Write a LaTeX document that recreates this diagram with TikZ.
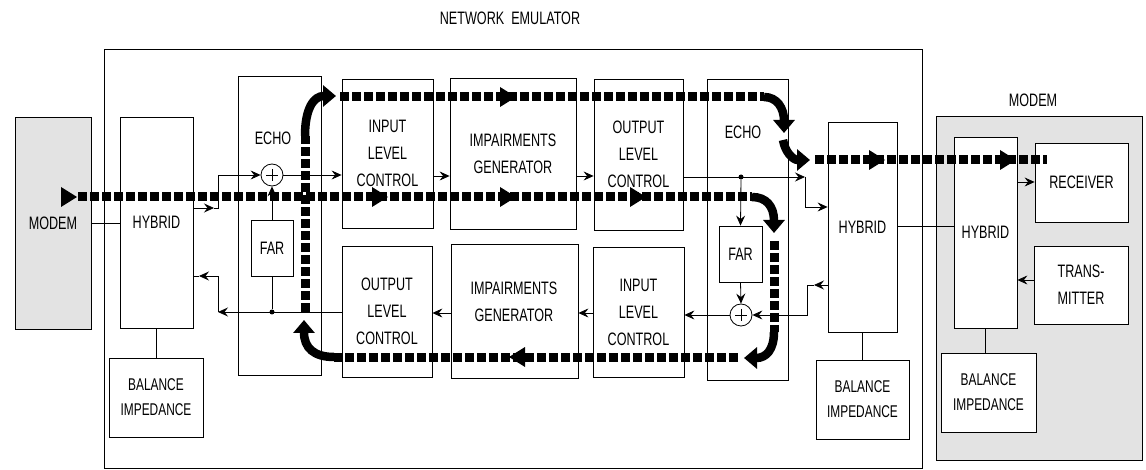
\documentclass[tikz,border=0pt]{standalone}
\usepackage{fontspec}
\setmainfont{Liberation Sans}[FakeStretch=0.7]
\usetikzlibrary{arrows.meta}
\tikzset{
  lbl/.style={font=\fontsize{18}{27}\selectfont, align=center, inner sep=0pt},
  smalllbl/.style={font=\fontsize{17}{25}\selectfont, align=center, inner sep=0pt},
  blk/.style={draw, line width=0.8pt, fill=white, lbl},
  shaded/.style={draw, line width=0.8pt, fill=black!11, lbl},
  thinline/.style={line width=0.8pt},
  tarr/.style={line width=0.8pt, -{Stealth[length=10pt,width=9pt,inset=3.5pt]}},
  thickdash/.style={line width=9pt, dash pattern=on 9pt off 3pt},
  bigcurve/.style={line width=8.5pt, -{Triangle[length=13pt,width=21pt]}},
  sumnode/.style={circle, draw, line width=0.8pt, fill=white, minimum size=22pt, inner sep=0pt},
  dotnode/.style={circle, fill, inner sep=0pt, minimum size=5pt},
  bigtip/.pic={\fill (-8,-10) -- (8,0) -- (-8,10) -- cycle;}
}
\begin{document}
\begin{tikzpicture}[x=1pt,y=-1pt]
\useasboundingbox (0,0) rectangle (1146,470);
% frame
\draw[thinline] (104,49) rectangle (922,468);
\node[lbl] (title) at (510,18) {NETWORK\ \ EMULATOR};
% left side
\node[shaded, minimum width=76pt, minimum height=212pt] (modemL) at (53,223) {MODEM};
\node[blk, minimum width=73pt, minimum height=211pt] (hybL) at (156.5,222.5) {HYBRID};
\node[blk, smalllbl, minimum width=94pt, minimum height=79pt] (balL) at (156,397.5) {BALANCE\\IMPEDANCE};
\node[blk, minimum width=83pt, minimum height=299pt] (echoL) at (279.5,225.5) {};
\node[lbl] (echoLt) at (273,138) {ECHO};
\node[blk, minimum width=42pt, minimum height=56pt] (farL) at (272,248) {FAR};
\node[sumnode] (sumL) at (272,175) {};
\draw[line width=0.5pt] (266,175) -- (278,175) (272,169) -- (272,181);
\node[dotnode] (dotL) at (272,312) {};
% middle rows
\node[blk, minimum width=91pt, minimum height=149pt] (ilcT) at (387.5,153.5) {INPUT\\LEVEL\\CONTROL};
\node[blk, minimum width=126pt, minimum height=151pt] (igT) at (513,153.5) {IMPAIRMENTS\\GENERATOR};
\node[blk, minimum width=89pt, minimum height=151pt] (olcT) at (638.5,154.5) {OUTPUT\\LEVEL\\CONTROL};
\node[blk, minimum width=90pt, minimum height=131pt] (olcB) at (387,311.5) {OUTPUT\\LEVEL\\CONTROL};
\node[blk, minimum width=127pt, minimum height=134pt] (igB) at (514.5,311) {};
\node[lbl] (igBt) at (514,302) {IMPAIRMENTS\\GENERATOR};
\node[blk, minimum width=91pt, minimum height=130pt] (ilcB) at (638.5,312) {INPUT\\LEVEL\\CONTROL};
% right echo
\node[blk, minimum width=81pt, minimum height=301pt] (echoR) at (747.5,229.5) {};
\node[lbl] (echoRt) at (743,132) {ECHO};
\node[blk, minimum width=43pt, minimum height=56pt] (farR) at (740.5,254) {FAR};
\node[sumnode] (sumR) at (741,315) {};
\draw[line width=0.5pt] (735,315) -- (747,315) (741,309) -- (741,321);
\node[dotnode] (dotR) at (741,177) {};
\node[blk, minimum width=69pt, minimum height=210pt] (hybR) at (862.5,227) {HYBRID};
\node[blk, smalllbl, minimum width=93pt, minimum height=79pt] (balR) at (862.5,399.5) {BALANCE\\IMPEDANCE};
% right modem
\node[lbl] (modemRt) at (1033,100) {MODEM};
\node[shaded, minimum width=206pt, minimum height=344pt] (modemR) at (1039,288) {};
\node[blk, minimum width=63pt, minimum height=191pt] (hybM) at (985.5,232.5) {HYBRID};
\node[blk, minimum width=93pt, minimum height=79pt] (recv) at (1081.5,182.5) {RECEIVER};
\node[blk, minimum width=94pt, minimum height=78pt] (trans) at (1081,285) {TRANS-\\MITTER};
\node[blk, smalllbl, minimum width=95pt, minimum height=79pt] (balM) at (988.5,392.5) {BALANCE\\IMPEDANCE};
% thin connectors
\draw[thinline] (modemL.east) -- (hybL.west |- modemL.east);
\draw[thinline] (hybL.south) -- (hybL.south |- balL.north);
\draw[tarr] (hybL.east |- 0,208) -- (214,208);
\draw[tarr] (214,208) -- (218,208) -- (218,175) -- (sumL.west);
\draw[tarr] (sumL.east) -- (ilcT.west |- sumL.east);
\draw[tarr] (farL.north) -- (sumL.south);
\draw[thinline] (farL.south) -- (dotL);
\draw[tarr] (olcB.west |- 0,312) -- (218,312);
\draw[tarr] (218,312) -- (218,276) -- (199,276);
\draw[thinline] (199,276) -- (hybL.east |- 0,276);
\draw[tarr] (ilcT.east |- 0,176) -- (igT.west |- 0,176);
\draw[tarr] (igT.east |- 0,176) -- (olcT.west |- 0,176);
\draw[tarr] (olcT.east |- 0,177) -- (805,177);
\draw[tarr] (805,177) -- (805,207) -- (hybR.west |- 0,207);
\draw[tarr] (dotR) -- (farR.north);
\draw[tarr] (farR.south) -- (sumR.north);
\draw[tarr] (hybR.west |- 0,285) -- (814,285);
\draw[tarr] (814,285) -- (807,285) -- (807,315) -- (sumR.east);
\draw[tarr] (sumR.west) -- (ilcB.east |- sumR.west);
\draw[tarr] (ilcB.west |- 0,313) -- (igB.east |- 0,313);
\draw[tarr] (igB.west |- 0,313) -- (olcB.east |- 0,313);
\draw[thinline] (hybR.south) -- (hybR.south |- balR.north);
\draw[thinline] (hybR.east |- 0,226) -- (hybM.west |- 0,226);
\draw[thinline] (hybM.south) -- (hybM.south |- balM.north);
\draw[tarr] (hybM.east |- 0,182) -- (recv.west |- 0,182);
\draw[tarr] (trans.west |- 0,280) -- (hybM.east |- 0,280);
% thick echo path
\pic at (69,197) {bigtip};
\draw[thickdash] (78,197) -- (752,197);
\pic at (380,197) {bigtip};
\pic at (508,197) {bigtip};
\pic at (638,197) {bigtip};
\draw[bigcurve] (752,197) .. controls (766,197) and (774,206) .. (774,233);
\draw[thickdash] (774,241) -- (774,332);
\draw[bigcurve] (774,332) .. controls (774,350) and (766,358) .. (744,358);
\draw[thickdash] (738,357) -- (334,357);
\pic[rotate=180] at (517,357) {bigtip};
\draw[bigcurve] (334,357) .. controls (314,357) and (304,348) .. (304,320);
\draw[thickdash] (305,312) -- (305,136);
\draw[bigcurve] (305,136) .. controls (305,108) and (314,96) .. (336,96);
\draw[thickdash] (340,97) -- (764,97);
\pic at (508,97) {bigtip};
\draw[bigcurve] (764,97) .. controls (777,97) and (784,108) .. (784,133);
\draw[bigcurve] (783,140) .. controls (785,152) and (793,160) .. (810,160);
\draw[thickdash] (815,160) -- (1047,160);
\pic at (877,160) {bigtip};
\pic at (1008,160) {bigtip};
\end{tikzpicture}
\end{document}
